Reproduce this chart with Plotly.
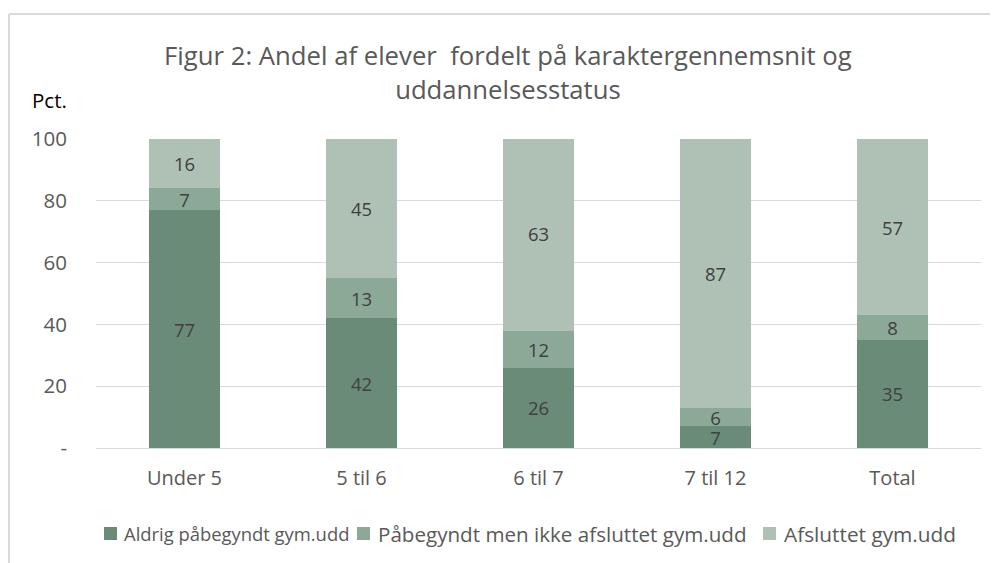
import plotly.graph_objects as go

categories = ["Under 5", "5 til 6", "6 til 7", "7 til 12", "Total"]
series_names = ["Aldrig påbegyndt gym.udd", "Påbegyndt men ikke afsluttet gym.udd", "Afsluttet gym.udd"]
aldrig = [77, 42, 26, 7, 35]
paabegyndt = [7, 13, 12, 6, 8]
afsluttet = [16, 45, 63, 87, 57]
tick_vals = [0, 20, 40, 60, 80, 100]
tick_text = ["-", "20", "40", "60", "80", "100"]

colors = ["#6A8B77", "#8BA996", "#AFC1B4"]
font_family = "'Open Sans', Lato, sans-serif"

W, H = 990, 555
ML, MR, MT, MB = 88, 17, 131, 115
PW, PH = W - ML - MR, H - MT - MB


def px(fx):
    return (fx - ML) / PW


def py(fy):
    return (H - MB - fy) / PH


fig = go.Figure()
for name, vals, col in zip(series_names, [aldrig, paabegyndt, afsluttet], colors):
    fig.add_trace(go.Bar(
        x=categories, y=vals, name=name,
        marker=dict(color=col, line=dict(width=0)),
        text=[str(v) for v in vals], textposition="inside",
        insidetextanchor="middle", textangle=0,
        textfont=dict(size=18.5, color="#404040", family=font_family),
        constraintext="none", showlegend=False,
    ))

fig.update_layout(
    barmode="stack",
    bargap=0.6,
    width=W, height=H,
    paper_bgcolor="white", plot_bgcolor="white",
    margin=dict(l=ML, r=MR, t=MT, b=MB, autoexpand=False),
    font=dict(family=font_family, color="#595959", size=20),
    title=dict(
        text="Figur 2: Andel af elever\u00a0 fordelt på karaktergennemsnit og<br>uddannelsesstatus",
        x=0.505, xanchor="center", y=0.897, yanchor="top",
        font=dict(size=25.7, color="#595959", family=font_family),
    ),
    showlegend=False,
    uniformtext=dict(minsize=8, mode="show"),
)
fig.update_yaxes(range=[0, 100], tickvals=tick_vals, ticktext=tick_text,
                 showgrid=True, gridcolor="#D9D9D9", gridwidth=1,
                 zeroline=True, zerolinecolor="#D9D9D9", zerolinewidth=1,
                 tickfont=dict(size=20.5, color="#595959"), ticks="", ticklabelstandoff=28)
fig.update_xaxes(showgrid=False, showline=False, tickfont=dict(size=20, color="#595959"), ticks="",
                 ticklabelstandoff=16)

fig.add_annotation(text="Pct.", xref="paper", yref="paper", x=px(22), y=py(92),
                   xanchor="left", yanchor="middle", showarrow=False,
                   font=dict(size=20.5, color="#000000", family=font_family))

# manual legend (squares + labels)
legend_sq_x = [96, 349, 755]
legend_txt_x = [114, 368, 774]
legend_font = [18.4, 20.6, 20.8]
legend_y = 525.5
for name, col, sx, tx, fs in zip(series_names, colors, legend_sq_x, legend_txt_x, legend_font):
    fig.add_shape(type="rect", xref="paper", yref="paper",
                  x0=px(sx), x1=px(sx + 13), y0=py(legend_y + 6.5), y1=py(legend_y - 6.5),
                  fillcolor=col, line=dict(width=0))
    fig.add_annotation(text=name, xref="paper", yref="paper", x=px(tx), y=py(legend_y),
                       xanchor="left", yanchor="middle", showarrow=False,
                       font=dict(size=fs, color="#595959", family=font_family))

# chart frame
fig.add_shape(type="line", xref="paper", yref="paper", x0=px(1), x1=px(W + 10), y0=py(6), y1=py(6),
              line=dict(color="#D9D9D9", width=2))
fig.add_shape(type="line", xref="paper", yref="paper", x0=px(1), x1=px(1), y0=py(H + 10), y1=py(6),
              line=dict(color="#D9D9D9", width=2))

fig.write_html("out.html")
